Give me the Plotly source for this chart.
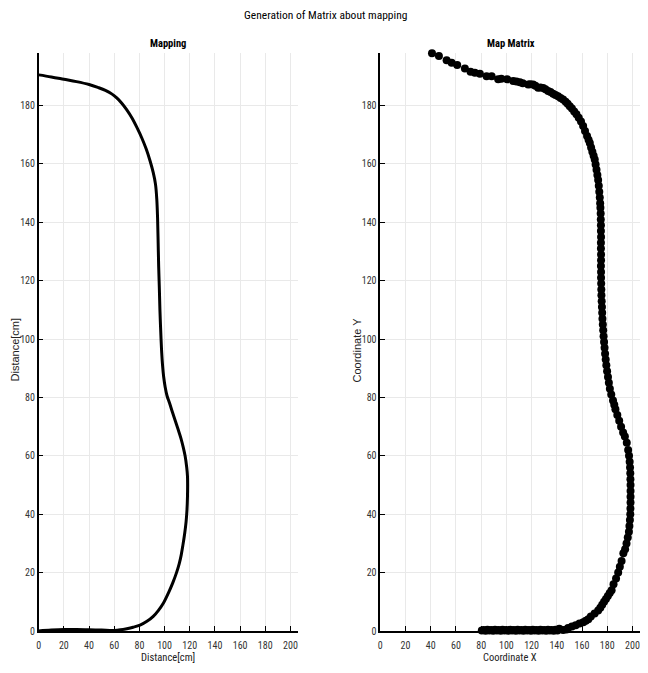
import plotly.graph_objects as go

# ---- Data ----
map_x = [0, 10, 20, 30, 40, 50, 60, 65, 70, 75, 80.5, 86, 91, 95, 99, 103, 106.5, 109.5,
         111.6, 113.2, 114.6, 116, 117.1, 117.8, 118.2, 118.3, 118.2, 117.6, 116.3, 114.8,
         113, 110.8, 108.5, 106.2, 104, 102, 100.5, 99.3, 98.4, 97.7, 97.2, 96.3, 95.8, 95.3,
         94.8, 94.4, 93.8, 92.8, 91, 88.5, 85.5, 82, 78, 74, 70, 66, 62, 58, 53, 47, 40, 30,
         20, 10, 0]
map_y = [0, 0.3, 0.5, 0.5, 0.4, 0.3, 0.2, 0.4, 0.8, 1.3, 2, 3.3, 5, 7, 9.5, 13, 16.5, 20,
         23, 26, 29.5, 33.5, 37.5, 41.5, 46, 50, 53, 56, 60, 63,
         66, 69, 72, 75, 78, 80.5, 83.5, 87, 91, 95.5, 100, 110, 118, 125,
         135, 142, 148, 153, 157, 161, 165, 168.8, 172.5, 175.8, 178.5, 180.8, 182.6, 184,
         185.2, 186.2, 187.2, 188.2, 189, 189.8, 190.5]

mat_x = [41, 46.5, 52.6, 56.6, 61, 67.1, 71.6, 75, 79, 84.3, 88.3, 93.5, 96, 100.6, 105.4,
         108, 110.7, 113, 117.3, 119, 121.2, 123, 125.2, 127, 129.2, 131, 133.1, 135, 137.1,
         139, 141, 143, 145, 147, 148.6, 150.3, 152, 153.8, 155.6, 157.4, 159.2, 160.9,
         162.4, 164, 165.2, 166.2, 167.2, 168.2, 169.2, 170.1, 170.8, 171.5, 172.2, 172.8,
         173.3, 173.7, 174.1, 174.4, 174.6, 174.8, 174.9, 175, 175, 175.1, 175, 175, 175.1,
         175.1, 175, 175.1, 175.1, 175.2, 175.3, 175.4, 175.6, 175.8, 176, 176.2, 176.5,
         176.8, 177.1, 177.5, 177.9, 178.3, 178.8, 179.3, 179.9, 180.6, 181.3, 182.1, 183.2,
         184.6, 185.6, 186.5, 188, 189.5, 191, 192.6, 194, 195.5, 196.6, 197.3, 197.8, 198.1,
         198.3, 198.4, 198.5, 198.5, 198.5, 198.5, 198.4, 198.3, 198, 197.6, 197.2, 196.3,
         195.3, 194.2, 192.8, 191.4, 190, 188.7, 187, 185, 183.5, 182, 180.5, 179, 177.5, 176,
         174.5, 172.8, 170, 167, 165, 163, 161, 158, 155, 152, 149, 147.7, 145,
         142, 140.5, 139, 137.5, 136, 134.5, 133, 131.5, 130, 128.5, 127, 125.5, 124, 122.5,
         121, 119.5, 118, 116.5, 115, 113.5, 112, 110.5, 109, 107.5, 106, 104.5, 103, 101.5,
         100, 98.5, 97, 95.5, 94, 92.5, 91, 89.5, 88, 86.5, 85, 83.5, 82, 80.5]
mat_y = [197.9, 197, 195.5, 194.7, 193.9, 192.7, 191.6, 191.2, 190.9, 190, 190, 189, 189.2,
         189, 188.4, 188.2, 188, 187.6, 187.2, 187.3, 187.2, 186.8, 186.1, 186.2, 186, 185.6,
         185, 184.6, 184, 183.6, 183.2, 182.6, 182.1, 181.3, 180.6, 179.8, 179, 178, 177,
         175.8, 174.5, 173, 171.3, 169.6, 168.3, 167.2, 165.6, 164.2, 162.8, 161.5, 159.8,
         158, 156.2, 154.5, 152.5, 150.5, 148.5, 146.5, 145, 143, 141, 139, 137, 135, 133,
         131, 129, 127, 125, 123, 121, 119, 117, 115, 113, 111, 109, 107, 105, 103, 101, 99,
         97, 95, 93, 91, 89, 87, 85, 83, 81, 79, 77.5, 76, 74, 72, 70, 68, 66.6, 64.5, 62,
         60, 58, 56, 54, 52, 50, 48, 46, 44, 42, 40, 38, 36, 34, 32, 30, 28, 26.6, 24, 22, 20,
         18, 16, 14, 13, 12, 11, 10, 9, 8, 7, 6, 5, 4, 3.5, 3, 2.6, 2, 1.5, 1, 0.5, 0.3, 0.8,
         0.2, 0.4, 0.1, 0.3, 0.2, 0.4, 0.1, 0.3, 0.2, 0.4, 0.1, 0.3, 0.2, 0.4, 0.1, 0.3, 0.2,
         0.4, 0.1, 0.3, 0.2, 0.4, 0.1, 0.3, 0.2, 0.4, 0.1, 0.3, 0.2, 0.4, 0.1, 0.3, 0.2, 0.4,
         0.1, 0.3, 0.2, 0.4, 0.1, 0.3, 0.2, 0.4, 0.1, 0.3, 0.2, 0.4]

tick_vals = [0, 20, 40, 60, 80, 100, 120, 140, 160, 180, 200]

NARROW = "Roboto Condensed, DejaVu Sans Condensed, sans-serif"
WIDE = "Liberation Sans, Arial, sans-serif"

# page body has an 8px margin, so the figure is sized/placed to compensate
OFF = 8
W, H = 648 - 2 * OFF, 673 - 2 * OFF
fig = go.Figure()

fig.add_trace(go.Scatter(x=map_x, y=map_y, mode="lines", line=dict(color="black", width=3, shape="spline"),
                         xaxis="x", yaxis="y", showlegend=False))
fig.add_trace(go.Scatter(x=mat_x, y=mat_y, mode="markers", marker=dict(color="black", size=8),
                         cliponaxis=False, xaxis="x2", yaxis="y2", showlegend=False))

def px_x(p):
    return (p - OFF) / W

def px_y(p):
    return (H - (p - OFF)) / H

axis_common = dict(
    showgrid=True, gridcolor="#e9e9e9", gridwidth=1,
    showline=True, linecolor="black", linewidth=1.5,
    ticks="inside", ticklen=5, tickcolor="black", tickwidth=1,
    tickvals=tick_vals, zeroline=False,
    tickfont=dict(family=NARROW, size=10, color="#333333"),
    ticklabeloverflow="allow",
    mirror=False, automargin=False,
)
xaxis_extra = dict(ticklabelstandoff=4)

fig.update_layout(
    width=W, height=H, margin=dict(l=0, r=0, t=0, b=0, autoexpand=False),
    plot_bgcolor="white", paper_bgcolor="white",
    xaxis=dict(domain=[px_x(38.7), px_x(298)], range=[0, 206], anchor="y", **axis_common, **xaxis_extra),
    yaxis=dict(domain=[px_y(631), px_y(53)], range=[0, 198], anchor="x", **axis_common),
    xaxis2=dict(domain=[px_x(380.3), px_x(640)], range=[0, 206], anchor="y2", **axis_common, **xaxis_extra),
    yaxis2=dict(domain=[px_y(631), px_y(53)], range=[0, 198], anchor="x2", **axis_common),
    showlegend=False,
)

ann = [
    dict(text="Generation of Matrix about mapping", x=px_x(325), y=px_y(15),
         font=dict(family=NARROW, size=11.5, color="black")),
    dict(text="<b>Mapping</b>", x=px_x(168), y=px_y(43.5), font=dict(family=NARROW, size=10.5, color="black")),
    dict(text="<b>Map Matrix</b>", x=px_x(510.5), y=px_y(43.5), font=dict(family=NARROW, size=10.5, color="black")),
    dict(text="Distance[cm]", x=px_x(168), y=px_y(657.5), font=dict(family=NARROW, size=10.5, color="#222222")),
    dict(text="Coordinate X", x=px_x(510), y=px_y(657.5), font=dict(family=NARROW, size=10.5, color="#222222")),
    dict(text="Distance[cm]", x=px_x(14.5), y=px_y(350), textangle=-90,
         font=dict(family=WIDE, size=11, color="#222222")),
    dict(text="Coordinate Y", x=px_x(356.5), y=px_y(350), textangle=-90,
         font=dict(family=WIDE, size=11, color="#222222")),
]
for a in ann:
    a.update(xref="paper", yref="paper", showarrow=False, xanchor="center", yanchor="middle")
    fig.add_annotation(**a)

fig.write_html("out.html")
